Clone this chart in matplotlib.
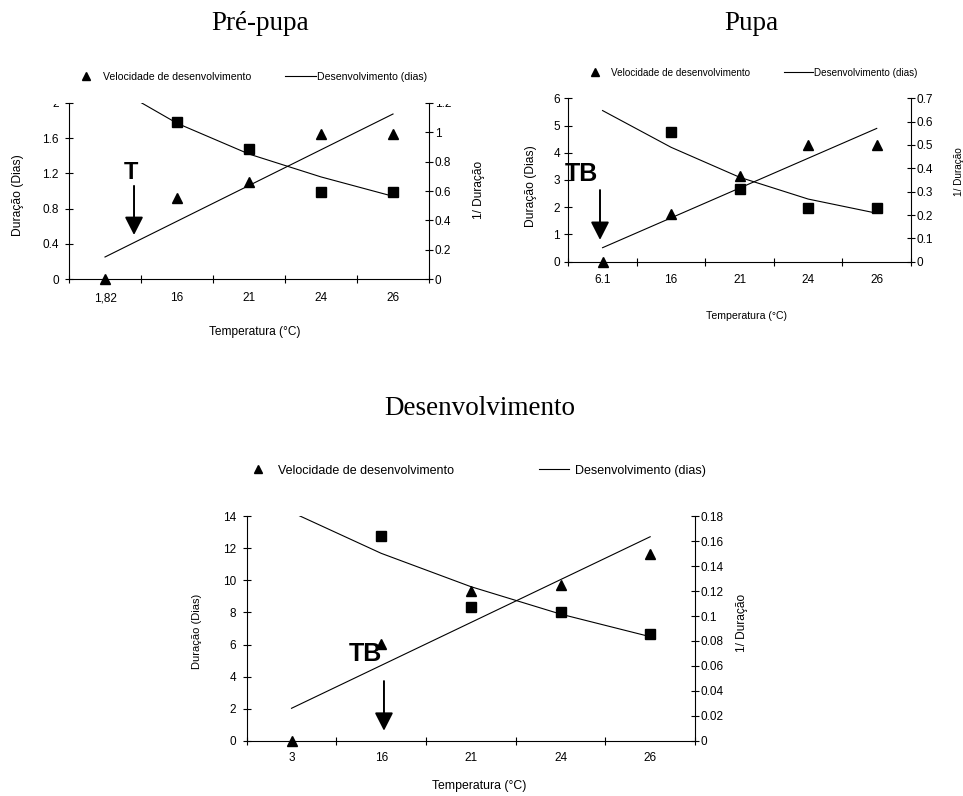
import numpy as np
import matplotlib
matplotlib.use('Agg')
import matplotlib.pyplot as plt
from matplotlib.lines import Line2D
from matplotlib.transforms import Bbox, TransformedBbox

plt.rcParams['font.family'] = ['Liberation Sans', 'DejaVu Sans']

# Pre-pupa
prepupa_temps = ['1,82', '16', '21', '24', '26']
prepupa_dur = [np.nan, 1.78, 1.48, 0.99, 0.99]
prepupa_dur_fit = [2.24, 1.77, 1.42, 1.16, 0.94]
prepupa_vel = [0, 0.55, 0.66, 0.99, 0.99]
prepupa_vel_fit = [0.15, 1.125]   # straight line, first and last category

# Pupa
pupa_temps = ['6.1', '16', '21', '24', '26']
pupa_dur = [np.nan, 4.77, 2.66, 1.98, 1.98]
pupa_dur_fit = [5.55, 4.2, 3.1, 2.3, 1.78]
pupa_vel = [0, 0.204, 0.367, 0.5, 0.5]
pupa_vel_fit = [0.06, 0.571]

# Desenvolvimento
dev_temps = ['3', '16', '21', '24', '26']
dev_dur = [np.nan, 12.77, 8.34, 8.01, 6.64]
dev_dur_fit = [14.26, 11.69, 9.61, 7.9, 6.49]
dev_vel = [0, 0.0776, 0.12, 0.125, 0.1495]
dev_vel_fit = [0.026, 0.1636]

W, H = 963, 796
fig = plt.figure(figsize=(W / 100, H / 100), dpi=100)


def box(l, t, r, b):
    return [l / W, 1 - b / H, (r - l) / W, (b - t) / H]


def fpos(x, y):
    return x / W, 1 - y / H


def fmt(v):
    return ('%.2f' % v).rstrip('0').rstrip('.')


def panel(rect, temps, dur, dur_fit, vel, vel_fit, lticks, rticks, tick_fs, xpad, lpad):
    ax = fig.add_axes(rect)
    axr = ax.twinx()
    x = np.arange(len(temps)) + 0.5
    ax.set_xlim(0, len(temps))
    ax.set_ylim(lticks[0], lticks[-1])
    axr.set_ylim(rticks[0], rticks[-1])

    ax.plot(x, dur_fit, color='black', lw=0.8)
    ax.plot(x, dur, 's', color='black', ms=7, clip_on=False)
    axr.plot(x[[0, -1]], vel_fit, color='black', lw=0.8)
    axr.plot(x, vel, '^', color='black', ms=7, clip_on=False)

    ax.set_xticks(np.arange(len(temps) + 1))
    ax.set_xticklabels([])
    ax.set_xticks(x, minor=True)
    ax.set_xticklabels(temps, minor=True, fontsize=tick_fs)
    ax.tick_params(axis='x', which='major', direction='inout', length=6, width=0.8)
    ax.tick_params(axis='x', which='minor', length=0, pad=xpad)
    ax.set_yticks(lticks)
    ax.set_yticklabels([fmt(v) for v in lticks], fontsize=tick_fs)
    ax.tick_params(axis='y', direction='inout', length=6, width=0.8, pad=lpad)
    axr.set_yticks(rticks)
    axr.set_yticklabels([fmt(v) for v in rticks], fontsize=tick_fs)
    axr.tick_params(axis='y', direction='inout', length=6, width=0.8, pad=1)

    for s in ['top', 'right']:
        ax.spines[s].set_visible(False)
    for s in ['top', 'left', 'bottom']:
        axr.spines[s].set_visible(False)
    for s in ax.spines.values():
        s.set_linewidth(0.8)
    axr.spines['right'].set_linewidth(0.8)
    return ax, axr


def legend(ax, start_px, y_px, fs, hlen, pad, colsp):
    handles = [Line2D([], [], marker='^', ls='none', color='black', ms=5.5),
               Line2D([], [], color='black', lw=0.8)]
    ax.legend(handles, ['Velocidade de desenvolvimento', 'Desenvolvimento (dias)'],
              loc='center left', bbox_to_anchor=fpos(start_px, y_px),
              bbox_transform=fig.transFigure, ncol=2, frameon=False,
              fontsize=fs, handlelength=hlen, handletextpad=pad,
              columnspacing=colsp, borderpad=0, borderaxespad=0)


def arrow(ax, xpos, tail, tip):
    ax.annotate('', xy=(xpos, tip), xytext=(xpos, tail),
                arrowprops=dict(arrowstyle='-|>,head_length=0.55,head_width=0.28',
                                mutation_scale=20, color='black', lw=1.4,
                                shrinkA=0, shrinkB=0))


title_font = dict(family='Liberation Serif', fontsize=19.5, ha='center', va='baseline')
lab_font = dict(ha='center', va='center')

# ---- Pre-pupa ----
ax1, ax1r = panel(box(69, 103, 429, 279), prepupa_temps, prepupa_dur, prepupa_dur_fit,
                  prepupa_vel, prepupa_vel_fit,
                  [0, 0.4, 0.8, 1.2, 1.6, 2.0], [0, 0.2, 0.4, 0.6, 0.8, 1.0, 1.2],
                  8.5, 9.5, 4.3)
legend(ax1, 70, 77, 7.6, 3.0, 0.1, 3.2)
arrow(ax1, 0.903, 1.058, 0.50)
ax1.text(0.857, 1.138, 'T', fontsize=17, fontweight='bold', ha='center', va='baseline')
fig.text(*fpos(260.5, 29.5), 'Pré-pupa', **title_font)
fig.text(*fpos(17.5, 195), 'Duração (Dias)', rotation=90, fontsize=8.7, **lab_font)
fig.text(*fpos(479, 190), '1/ Duração', rotation=90, fontsize=8.6, **lab_font)
fig.text(*fpos(255, 332), 'Temperatura (°C)', fontsize=8.6, **lab_font)

# the top of the original pre-pupa chart is cut off
clip = TransformedBbox(Bbox.from_extents(0, 0, 1, 1 - 103.5 / H), fig.transFigure)
for lab in ax1.get_yticklabels() + ax1r.get_yticklabels():
    lab.set_clip_on(True)
    lab.set_clip_box(clip)

# ---- Pupa ----
ax2, ax2r = panel(box(568.3, 98.3, 911, 261.7), pupa_temps, pupa_dur, pupa_dur_fit,
                  pupa_vel, pupa_vel_fit,
                  [0, 1, 2, 3, 4, 5, 6], [0, 0.1, 0.2, 0.3, 0.4, 0.5, 0.6, 0.7],
                  8.5, 8.7, 3)
legend(ax2, 581, 72.5, 7.1, 2.87, 0.15, 3.5)
arrow(ax2, 0.4625, 2.63, 0.80)
ax2.text(0.196, 2.96, 'TB', fontsize=18, fontweight='bold', ha='center', va='baseline')
fig.text(*fpos(751, 29.5), 'Pupa', **title_font)
fig.text(*fpos(530.7, 185.8), 'Duração (Dias)', rotation=90, fontsize=8.7, **lab_font)
fig.text(*fpos(959, 171.7), '1/ Duração', rotation=90, fontsize=7.2, **lab_font)
fig.text(*fpos(746.7, 315.8), 'Temperatura (°C)', fontsize=7.6, **lab_font)

# ---- Desenvolvimento ----
ax3, ax3r = panel(box(246.7, 516.3, 695, 740.7), dev_temps, dev_dur, dev_dur_fit,
                  dev_vel, dev_vel_fit,
                  list(range(0, 15, 2)), [round(0.02 * i, 2) for i in range(10)],
                  8.5, 8, 4.6)
legend(ax3, 242.7, 470.7, 9, 2.4, 0.45, 6.8)
arrow(ax3, 1.531, 3.72, 0.62)
ax3.text(1.319, 4.99, 'TB', fontsize=18, fontweight='bold', ha='center', va='baseline')
fig.text(*fpos(480, 415), 'Desenvolvimento', **title_font)
fig.text(*fpos(196.7, 631), 'Duração (Dias)', rotation=90, fontsize=8, **lab_font)
fig.text(*fpos(742, 623.3), '1/ Duração', rotation=90, fontsize=8.6, **lab_font)
fig.text(*fpos(479, 786.3), 'Temperatura (°C)', fontsize=8.8, **lab_font)

fig.savefig('out.png', dpi=100)
